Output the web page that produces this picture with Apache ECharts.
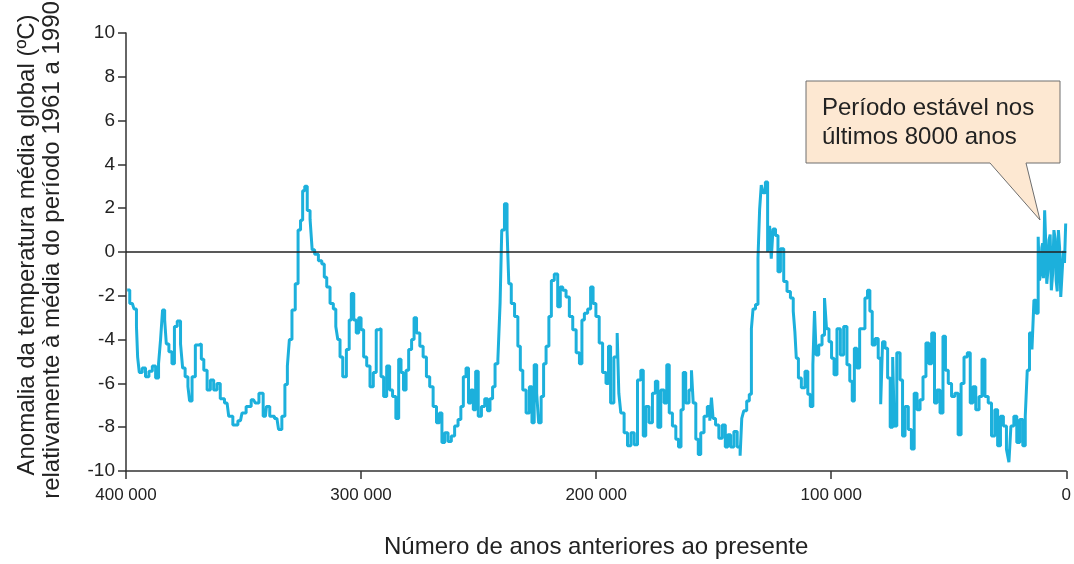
<!DOCTYPE html>
<html>
<head>
<meta charset="utf-8">
<script src="https://cdn.jsdelivr.net/npm/echarts@6/dist/echarts.min.js"></script>
<style>
html,body{margin:0;padding:0;background:#fff;}
#chart{width:1074px;height:564px;}
</style>
</head>
<body>
<div id="chart"></div>
<script>
// Age in thousands of years before present
const ageKyr = [
399.5,397.3,395.9,395.2,394.9,393.8,392.4,391.0,389.5,388.1,386.7,385.6,385.0,383.9,383.2,382.5,381.0,379.9,378.9,377.5,
376.1,375.7,374.0,373.3,372.6,371.2,369.8,368.3,367.6,366.2,364.8,363.4,362.0,360.6,359.2,357.0,355.6,353.5,351.3,350.0,
347.8,345.7,344.3,342.6,340.7,339.8,337.9,335.8,334.4,333.0,331.8,330.9,330.1,328.7,327.3,326.3,325.2,324.5,323.4,322.4,
321.0,320.6,318.9,317.4,316.0,315.3,313.9,312.5,311.1,310.4,309.4,308.5,307.1,305.4,304.7,303.6,302.6,301.5,300.5,299.5,
298.3,296.9,295.5,294.1,293.0,292.0,291.0,289.8,288.4,287.3,285.9,284.5,283.5,282.5,281.4,280.3,279.2,277.8,277.1,275.7,
274.3,272.9,271.5,270.1,268.6,267.2,266.1,265.1,263.7,262.3,260.9,259.5,258.0,257.1,255.9,254.8,253.8,252.8,251.7,250.8,
249.5,248.1,246.7,245.7,244.6,243.5,242.5,241.1,240.6,239.7,238.3,237.5,236.8,235.4,234.0,232.6,231.9,230.5,229.1,227.7,
226.9,225.8,224.8,224.1,222.7,222.0,220.6,219.6,218.5,217.1,215.6,214.9,213.5,212.1,210.7,209.2,207.8,206.4,205.7,204.3,
202.9,201.8,200.8,199.4,198.0,196.5,195.1,194.4,193.3,191.6,190.5,190.2,188.8,187.4,185.9,184.5,183.1,181.7,180.3,179.6,
178.2,176.8,175.3,174.3,173.2,171.8,170.4,169.5,168.3,166.8,165.4,164.5,163.3,162.6,161.2,159.8,159.1,158.3,156.9,156.2,
154.8,153.4,152.0,151.3,150.6,149.9,148.5,147.1,145.6,144.5,143.5,142.1,140.7,139.3,138.2,137.9,136.5,135.4,134.3,133.6,
132.9,131.5,130.8,130.1,129.4,128.4,127.6,126.5,125.9,125.1,124.4,123.0,122.3,120.9,119.5,118.1,116.6,115.7,115.2,114.5,
113.4,112.0,110.3,109.6,108.2,107.4,106.8,106.0,104.6,103.2,102.5,101.5,100.4,99.3,98.3,96.8,95.4,94.0,92.6,91.6,
90.5,89.8,88.4,87.4,86.2,85.1,84.0,83.1,82.0,80.6,79.4,78.5,77.8,76.4,75.6,74.2,73.5,72.8,71.4,70.0,
69.3,67.9,66.5,65.3,64.1,62.9,61.5,60.4,59.0,58.0,56.5,55.6,54.4,53.0,51.9,50.9,49.5,48.1,46.7,45.3,
44.2,42.8,41.4,40.3,39.2,37.8,36.4,35.3,33.9,32.5,31.1,29.7,28.7,27.3,26.2,24.7,24.1,23.0,21.6,20.5,
19.1,17.9,17.0,16.2,15.1,14.1,13.4,12.3,11.6,11.2,10.6,10.2,9.9,9.5,8.9,8.5,8.1,7.6,7.1,6.6,
6.1,5.5,5.0,4.5,4.1,3.6,3.1,2.6,2.1,1.5,1.0,0.5,0.0
];
// Temperature anomaly (ºC)
const anomaly = [
-1.74,-2.35,-2.6,-3.4,-4.8,-5.5,-5.3,-5.7,-5.45,-5.2,-5.75,-5.1,-4.0,-2.65,-3.1,-4.2,-4.55,-5.1,-3.4,-3.15,
-4.2,-5.3,-5.7,-6.15,-6.8,-5.7,-4.25,-4.2,-4.9,-5.4,-6.3,-5.85,-6.3,-6.0,-6.7,-6.9,-7.5,-7.9,-7.7,-7.35,
-7.05,-6.75,-6.9,-6.45,-7.5,-7.05,-7.5,-7.6,-8.1,-7.5,-6.05,-5.2,-4.0,-2.65,-1.45,1.0,1.45,2.8,3.0,1.9,
1.5,0.1,-0.1,-0.4,-0.55,-1.15,-1.6,-2.35,-2.6,-3.4,-4.0,-4.8,-5.7,-4.45,-3.1,-1.9,-3.1,-3.7,-3.0,-3.55,
-4.8,-5.2,-6.15,-5.5,-3.55,-3.5,-5.7,-6.6,-5.2,-6.3,-6.6,-7.6,-4.9,-5.5,-6.3,-5.4,-4.45,-4.0,-3.0,-3.7,
-4.3,-4.8,-5.7,-6.15,-7.05,-7.8,-7.35,-8.7,-8.25,-8.65,-8.4,-7.95,-7.65,-7.05,-5.7,-5.3,-6.9,-6.3,-7.2,-5.45,
-7.5,-7.05,-6.7,-7.25,-6.7,-6.15,-5.1,-4.9,-2.3,1.0,2.2,1.0,-1.45,-2.35,-2.95,-4.3,-5.4,-6.3,-7.35,-6.15,
-7.8,-5.15,-6.45,-7.8,-6.6,-5.1,-4.3,-2.95,-1.3,-1.0,-2.5,-1.6,-1.75,-2.05,-2.95,-3.55,-4.6,-5.1,-3.1,-2.8,
-2.6,-1.6,-2.35,-2.95,-4.15,-5.5,-6.0,-4.3,-6.9,-4.8,-3.7,-6.45,-7.35,-8.25,-8.85,-8.25,-8.8,-5.85,-5.4,-8.4,
-7.05,-7.8,-6.45,-5.9,-8.0,-6.3,-6.9,-5.15,-7.35,-7.95,-8.55,-8.9,-7.2,-5.5,-6.9,-6.3,-5.4,-6.9,-8.55,-9.25,
-8.25,-7.5,-7.05,-7.7,-6.65,-7.6,-7.9,-8.5,-7.9,-8.9,-8.35,-8.9,-8.2,-8.9,-9.3,-7.6,-7.25,-6.8,-6.5,-3.5,
-2.6,-2.4,-0.3,1.95,3.05,2.7,3.2,0.0,1.2,-0.3,1.05,0.75,-0.9,0.15,-1.35,-1.8,-2.1,-2.7,-3.65,-4.85,
-5.75,-6.2,-5.45,-6.5,-7.05,-5.15,-2.7,-4.7,-4.25,-3.8,-2.1,-3.5,-4.1,-4.85,-5.6,-3.5,-4.7,-3.4,-5.15,-5.9,
-6.8,-4.4,-5.3,-3.5,-3.5,-2.1,-1.75,-2.7,-4.25,-3.95,-4.85,-6.95,-4.1,-4.4,-5.75,-8.0,-4.8,-7.95,-4.6,-5.85,
-8.4,-7.05,-8.1,-9.0,-6.45,-7.2,-6.75,-5.7,-4.15,-5.1,-3.7,-6.9,-6.3,-7.35,-3.85,-5.4,-6.0,-6.6,-6.45,-8.35,
-6.0,-4.8,-4.6,-6.9,-6.15,-7.2,-6.6,-4.9,-6.6,-6.9,-8.4,-7.2,-8.85,-7.5,-7.95,-9.0,-9.6,-7.95,-7.5,-8.7,
-7.65,-8.85,-7.5,-5.4,-3.7,-4.45,-2.2,-2.8,0.7,-1.3,-1.0,0.2,0.4,-1.2,1.9,0.3,-1.45,-0.9,0.55,0.8,
-1.75,-1.0,1.0,0.6,-1.3,-1.8,1.0,0.2,-2.05,-1.0,0.05,-0.5,1.3
];
const yTicks = [-10,-8,-6,-4,-2,0,2,4,6,8,10];
const xTickLabels = {400000:'400 000',300000:'300 000',200000:'200 000',100000:'100 000',0:'0'};

const seriesData = ageKyr.map((a,i)=>[a*1000, anomaly[i]]);

const chart = echarts.init(document.getElementById('chart'), null, {renderer:'canvas'});
const FONT = '"Liberation Sans", Arial, sans-serif';
chart.setOption({
  animation:false,
  backgroundColor:'#ffffff',
  grid:{left:126,right:4,top:33,bottom:91,containLabel:false},
  xAxis:{
    type:'value', inverse:true, min:0, max:400000, interval:100000, position:'bottom',
    axisLine:{show:true,onZero:false,lineStyle:{color:'#333',width:1.5}},
    axisTick:{show:true,length:8,lineStyle:{color:'#333',width:1.5}},
    axisLabel:{show:true,margin:16,color:'#222',fontSize:17,fontFamily:FONT,
      formatter:v=>xTickLabels[v]!==undefined?xTickLabels[v]:''},
    splitLine:{show:false},
    name:'Número de anos anteriores ao presente',
    nameLocation:'middle', nameGap:64,
    nameTextStyle:{color:'#222',fontSize:24,fontFamily:FONT}
  },
  yAxis:{
    type:'value', min:-10, max:10, interval:2, position:'left',
    axisLine:{show:true,onZero:false,lineStyle:{color:'#333',width:1.5}},
    axisTick:{show:true,length:8,inside:false,lineStyle:{color:'#333',width:1.5}},
    axisLabel:{show:true,margin:11,color:'#222',fontSize:19,fontFamily:FONT},
    splitLine:{show:false}
  },
  series:[{
    type:'line', data:seriesData, step:'middle', showSymbol:false, symbol:'none',
    lineStyle:{color:'#1cb0dc',width:3},
    markLine:{silent:true,symbol:['none','none'],label:{show:false},
      lineStyle:{color:'#222',width:1.5,type:'solid'},
      data:[{yAxis:0}]},
    z:2
  }],
  graphic:[
    {type:'text',x:27,y:245,rotation:Math.PI/2,
      style:{text:'Anomalia da temperatura média global (ºC)',fill:'#222',font:'24px '+FONT,align:'center',verticalAlign:'middle'}},
    {type:'text',x:52,y:250,rotation:Math.PI/2,
      style:{text:'relativamente à média do período 1961 a 1990',fill:'#222',font:'24px '+FONT,align:'center',verticalAlign:'middle'}},
    {type:'polygon',z:10,
      shape:{points:[[806,81],[1060,81],[1060,163],[1026,163],[1040,220],[990,163],[806,163]]},
      style:{fill:'#fde8d2',stroke:'#6e6e6e',lineWidth:1}},
    {type:'text',z:11,x:822,y:108,
      style:{text:'Período estável nos',fill:'#222',font:'24px '+FONT,align:'left',verticalAlign:'middle'}},
    {type:'text',z:11,x:822,y:137,
      style:{text:'últimos 8000 anos',fill:'#222',font:'24px '+FONT,align:'left',verticalAlign:'middle'}}
  ]
});
</script>
</body>
</html>
